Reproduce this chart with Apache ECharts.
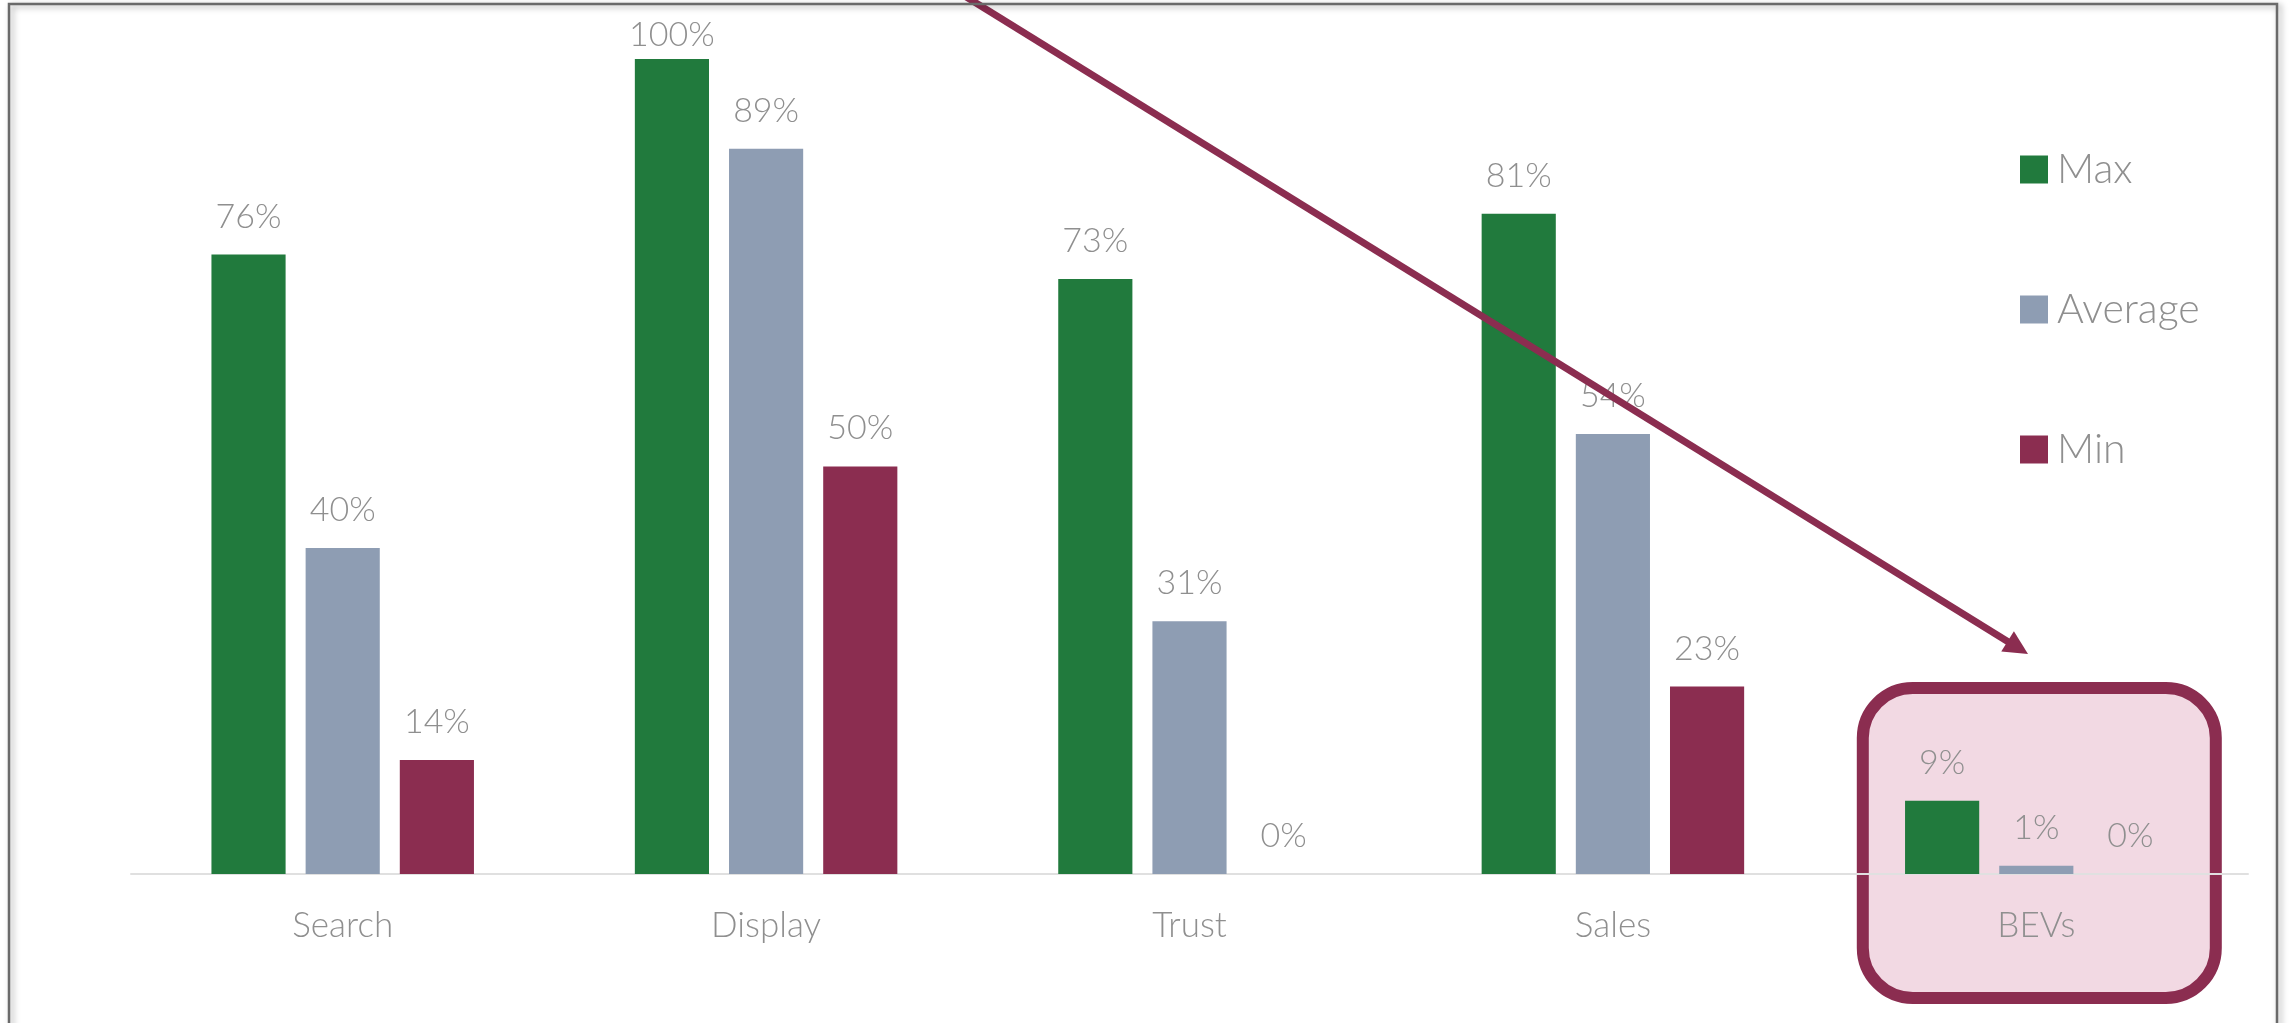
<!DOCTYPE html>
<html>
<head>
<meta charset="utf-8">
<title>Max / Average / Min by channel</title>
<script src="https://cdn.jsdelivr.net/npm/echarts@6/dist/echarts.min.js"></script>
<style>
  html, body { margin: 0; padding: 0; background: #ffffff; }
  #chart { width: 2290px; height: 1023px; }
</style>
</head>
<body>
<div id="chart"></div>
<script>
// Channels shown along the x axis
const categories = ['Search', 'Display', 'Trust', 'Sales', 'BEVs'];

// Percent values per channel
const maxValues = [76, 100, 73, 81, 9];
const avgValues = [40, 89, 31, 54, 1];
const minValues = [14, 50, 0, 23, 0];

const seriesNames = ['Max', 'Average', 'Min'];

const COLORS = {
  max: '#217a3d',
  avg: '#8e9db3',
  min: '#8b2d50',
  highlightFill: '#f2d9e3',
  text: '#8f8f8f',
  axis: '#e0e0e0',
  frame: '#6a6a6a'
};

const FONT = 'Lato, "Open Sans", "Noto Sans", sans-serif';
const LABEL_DISTANCE = 21;

// The tallest bar keeps its label a little closer so it stays inside the frame
function withLabels(values) {
  return values.map(v => v >= 100 ? { value: v, label: { distance: LABEL_DISTANCE - 14 } } : v);
}

function barSeries(name, values, color) {
  return {
    name: name,
    type: 'bar',
    data: withLabels(values),
    barGap: '27%',
    barCategoryGap: '38%',
    itemStyle: { color: color },
    label: {
      show: true,
      position: 'top',
      distance: LABEL_DISTANCE,
      formatter: '{c}%',
      fontFamily: FONT,
      fontWeight: 300,
      fontSize: 34,
      color: COLORS.text
    },
    emphasis: { disabled: true },
    z: 3
  };
}

const chart = echarts.init(document.getElementById('chart'), null, { renderer: 'canvas' });

chart.setOption({
  animation: false,
  backgroundColor: '#ffffff',
  grid: { left: 131, right: 42, top: 59, bottom: 149, containLabel: false },
  legend: {
    data: seriesNames,
    orient: 'vertical',
    left: 2015,
    top: 144,
    icon: 'rect',
    itemWidth: 28,
    itemHeight: 28,
    itemGap: 99,
    selectedMode: false,
    textStyle: {
      fontFamily: FONT,
      fontWeight: 300,
      fontSize: 41,
      color: COLORS.text,
      padding: [0, 0, 0, 4]
    }
  },
  xAxis: {
    type: 'category',
    data: categories,
    axisLine: { show: true, lineStyle: { color: COLORS.axis, width: 2 } },
    axisTick: { show: false },
    axisLabel: {
      margin: 34,
      fontFamily: FONT,
      fontWeight: 300,
      fontSize: 35,
      color: COLORS.text
    },
    z: 1
  },
  yAxis: {
    type: 'value',
    min: 0,
    max: 100,
    show: false,
    splitLine: { show: false }
  },
  series: [
    barSeries(seriesNames[0], maxValues, COLORS.max),
    barSeries(seriesNames[1], avgValues, COLORS.avg),
    barSeries(seriesNames[2], minValues, COLORS.min)
  ]
});

// Annotations: highlight box around the last channel and a trend arrow
const lastX = chart.convertToPixel({ xAxisIndex: 0 }, categories[categories.length - 1]);
const baseY = chart.convertToPixel({ yAxisIndex: 0 }, 0);

const boxW = 353, boxTop = baseY - 186, boxH = 310;

const arrowStart = [955, -10];
const arrowTip = [2028, 654];
const dx = arrowTip[0] - arrowStart[0], dy = arrowTip[1] - arrowStart[1];
const len = Math.sqrt(dx * dx + dy * dy);
const ux = dx / len, uy = dy / len;
const headLen = 24, headHalf = 12;
const baseX = arrowTip[0] - ux * headLen, baseYh = arrowTip[1] - uy * headLen;

chart.setOption({
  graphic: [
    {
      type: 'rect',
      z: -5,
      silent: true,
      shape: { x: lastX + 3 - boxW / 2, y: boxTop, width: boxW, height: boxH, r: 50 },
      style: { fill: COLORS.highlightFill, stroke: COLORS.min, lineWidth: 12 }
    },
    {
      type: 'polyline',
      z: 100,
      silent: true,
      shape: { points: [arrowStart, [baseX + ux * 2, baseYh + uy * 2]] },
      style: { stroke: COLORS.min, lineWidth: 7, fill: null }
    },
    {
      type: 'polygon',
      z: 100,
      silent: true,
      shape: {
        points: [
          arrowTip,
          [baseX - uy * headHalf, baseYh + ux * headHalf],
          [baseX + uy * headHalf, baseYh - ux * headHalf]
        ]
      },
      style: { fill: COLORS.min }
    },
    {
      type: 'rect',
      z: 101,
      silent: true,
      shape: { x: 9, y: 4, width: 2268, height: 1100 },
      style: {
        fill: null,
        stroke: COLORS.frame,
        lineWidth: 2.5,
        shadowBlur: 6,
        shadowOffsetX: 3,
        shadowOffsetY: 2,
        shadowColor: 'rgba(0,0,0,0.35)'
      }
    }
  ]
});
</script>
</body>
</html>
